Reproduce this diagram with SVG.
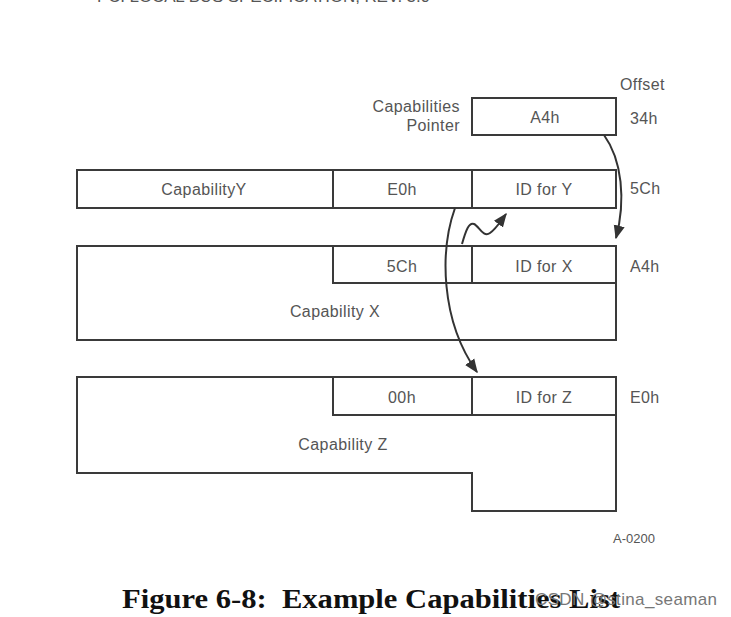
<svg xmlns="http://www.w3.org/2000/svg" width="731" height="617" viewBox="0 0 731 617">
<style>
.box{fill:none;stroke:#3a3a3a;stroke-width:2;stroke-linejoin:miter}
.ln{fill:none;stroke:#3a3a3a;stroke-width:2}
.t,.tr,.tl{font-family:"Liberation Sans",Arial,sans-serif;font-size:16px;fill:#555;letter-spacing:0.4px}
.t{text-anchor:middle}
.tr{text-anchor:end}
.tl{text-anchor:start}
.cap{font-family:"Liberation Serif","Times New Roman",serif;font-size:27px;font-weight:bold;fill:#111}
.con{fill:none;stroke:#333;stroke-width:2}
</style>
<defs>
<marker id="ahb" viewBox="0 0 10 10" refX="9" refY="5" markerWidth="14" markerHeight="14" orient="auto" markerUnits="userSpaceOnUse">
<path d="M0,1 L10,5 L0,9 z" fill="#333"/>
</marker>
</defs>
<rect width="731" height="617" fill="#fff"/>
<text x="97" y="2" font-family="Liberation Sans,Arial,sans-serif" font-size="17" fill="#555" textLength="333">PCI LOCAL BUS SPECIFICATION, REV. 3.0</text>

<g id="pointer">
<text class="tr" x="460" y="112">Capabilities</text>
<text class="tr" x="460" y="131">Pointer</text>
<rect class="box" x="472" y="98" width="144" height="37"/>
<text class="t" x="545" y="123">A4h</text>
</g>

<g id="offsets">
<text class="tl" x="620" y="90">Offset</text>
<text class="tl" x="630" y="124">34h</text>
<text class="tl" x="630" y="194">5Ch</text>
<text class="tl" x="630" y="272">A4h</text>
<text class="tl" x="630" y="403">E0h</text>
</g>

<g id="capY">
<rect class="box" x="77" y="170" width="539" height="38"/>
<line class="ln" x1="333" y1="170" x2="333" y2="208"/>
<line class="ln" x1="472" y1="170" x2="472" y2="208"/>
<text class="t" x="204" y="195">CapabilityY</text>
<text class="t" x="402" y="195">E0h</text>
<text class="t" x="544" y="195">ID for Y</text>
</g>

<g id="capX">
<rect class="box" x="77" y="246" width="539" height="94"/>
<polyline class="ln" points="333,246 333,283 616,283"/>
<line class="ln" x1="472" y1="246" x2="472" y2="283"/>
<text class="t" x="402" y="272">5Ch</text>
<text class="t" x="544" y="272">ID for X</text>
<text class="t" x="335" y="317">Capability X</text>
</g>

<g id="capZ">
<polygon class="box" points="77,377 616,377 616,511 472,511 472,473 77,473"/>
<polyline class="ln" points="333,377 333,415 616,415"/>
<line class="ln" x1="472" y1="377" x2="472" y2="415"/>
<text class="t" x="402" y="403">00h</text>
<text class="t" x="544" y="403">ID for Z</text>
<text class="t" x="343" y="450">Capability Z</text>
</g>

<text class="tl" x="613" y="543" style="font-size:13px;letter-spacing:0">A-0200</text>

<g id="connectors">
<path class="con" d="M604,135 C622,160 626,200 616,238" marker-end="url(#ahb)"/>
<path class="con" d="M455,208 C440,250 440,320 477,372" marker-end="url(#ahb)"/>
<path class="con" d="M462,244 C466,230 469,222 474,224 C479,226 483,238 490,233 C496,229 500,222 506,214" marker-end="url(#ahb)"/>
</g>

<text class="cap" x="122" y="608" textLength="498" lengthAdjust="spacingAndGlyphs" xml:space="preserve">Figure 6-8:  Example Capabilities List</text>
<text x="535" y="605" font-family="Liberation Sans,Arial,sans-serif" font-size="17" fill="#777" textLength="182">CSDN @stina_seaman</text>
</svg>
